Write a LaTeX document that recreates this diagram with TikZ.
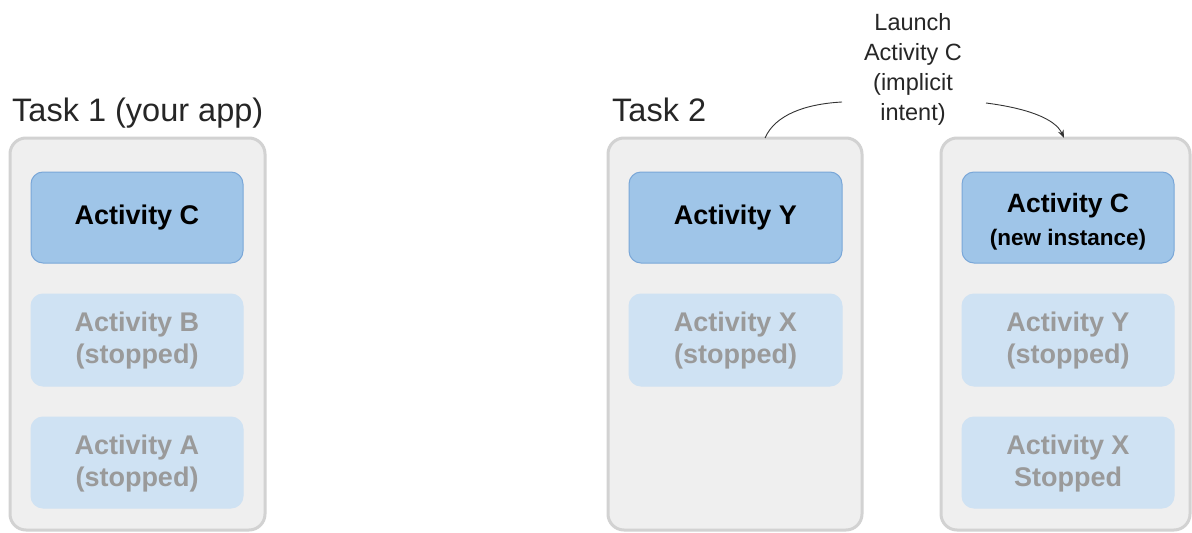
\documentclass[tikz,border=0pt]{standalone}
\usepackage{fontspec}
\setmainfont{Liberation Sans}
\usetikzlibrary{arrows.meta}
\definecolor{contfill}{HTML}{EFEFEF}
\definecolor{contdraw}{HTML}{D2D2D2}
\definecolor{actfill}{HTML}{9FC5E8}
\definecolor{actdraw}{HTML}{7AA7D8}
\definecolor{inafill}{HTML}{CFE2F3}
\definecolor{inatext}{HTML}{9A9A9A}
\begin{document}
\begin{tikzpicture}[x=1pt,y=-1pt,
  container/.style={draw=contdraw, fill=contfill, line width=3pt, rounded corners=16pt},
  actbox/.style={draw=actdraw, fill=actfill, line width=1pt, rounded corners=12pt},
  inabox/.style={draw=inafill, fill=inafill, line width=1pt, rounded corners=12pt},
  boxtext/.style={align=center, font=\fontsize{27}{32}\selectfont\bfseries},
  tasklabel/.style={anchor=base west, inner sep=0pt, font=\fontsize{32.5}{36}\selectfont, text=black!85},
  conn/.style={line width=0.9pt, black!80}
]
\useasboundingbox (0,0) rectangle (1192,533);
\fill[white] (0,0) rectangle (1192,533);

% containers
\draw[container] (10,138) rectangle (265,530);
\node[inner sep=0pt, minimum width=255pt, minimum height=392pt] (t1) at (137.5,334) {};
\draw[container] (608,138) rectangle (862,530);
\node[inner sep=0pt, minimum width=254pt, minimum height=392pt] (t2) at (735,334) {};
\draw[container] (941,138) rectangle (1190,530);
\node[inner sep=0pt, minimum width=249pt, minimum height=392pt] (t3) at (1065.5,334) {};

% task labels
\node[tasklabel] (l1) at (12,121) {Task 1 (your app)};
\node[tasklabel] (l2) at (612,121) {Task 2};

% task 1 boxes
\draw[actbox] (31,172) rectangle (243,263);
\node[boxtext, text=black] (c1) at (137,218) {Activity C};
\draw[inabox] (31,294) rectangle (243,386);
\node[boxtext, text=inatext] (b1) at (137,341) {Activity B\\(stopped)};
\draw[inabox] (31,417) rectangle (243,508);
\node[boxtext, text=inatext] (a1) at (137,464) {Activity A\\(stopped)};

% task 2 boxes
\draw[actbox] (629,172) rectangle (842,263);
\node[boxtext, text=black] (y2) at (735.5,218) {Activity Y};
\draw[inabox] (629,294) rectangle (842,386);
\node[boxtext, text=inatext] (x2) at (735.5,341) {Activity X\\(stopped)};

% task 3 boxes
\draw[actbox] (962,172) rectangle (1174,263);
\node[text=black, font=\fontsize{26.5}{28}\selectfont\bfseries, inner sep=0pt] (c3) at (1068,206) {Activity C};
\node[text=black, font=\fontsize{22.5}{24}\selectfont\bfseries, inner sep=0pt] (c3b) at (1068,240) {(new instance)};
\draw[inabox] (962,294) rectangle (1174,386);
\node[boxtext, text=inatext] (y3) at (1068,341) {Activity Y\\(stopped)};
\draw[inabox] (962,417) rectangle (1174,508);
\node[boxtext, text=inatext] (x3) at (1068,464) {Activity X\\Stopped};

% launch label
\node[align=center, font=\fontsize{23.5}{30}\selectfont, text=black!85, inner sep=0pt] (launch) at (913,69)
  {Launch\\Activity C\\(implicit\\intent)};

\coordinate (s1) at (765,138);
\coordinate (e1) at (842,102);
\coordinate (s2) at (986,103);
\coordinate (e2) at (1064,138);
\draw[conn] (s1) .. controls (775,115) and (805,104) .. (e1);
\draw[conn, -{Stealth[length=8pt,width=6pt]}] (s2) .. controls (1025,108) and (1055,118) .. (e2);
\end{tikzpicture}
\end{document}
